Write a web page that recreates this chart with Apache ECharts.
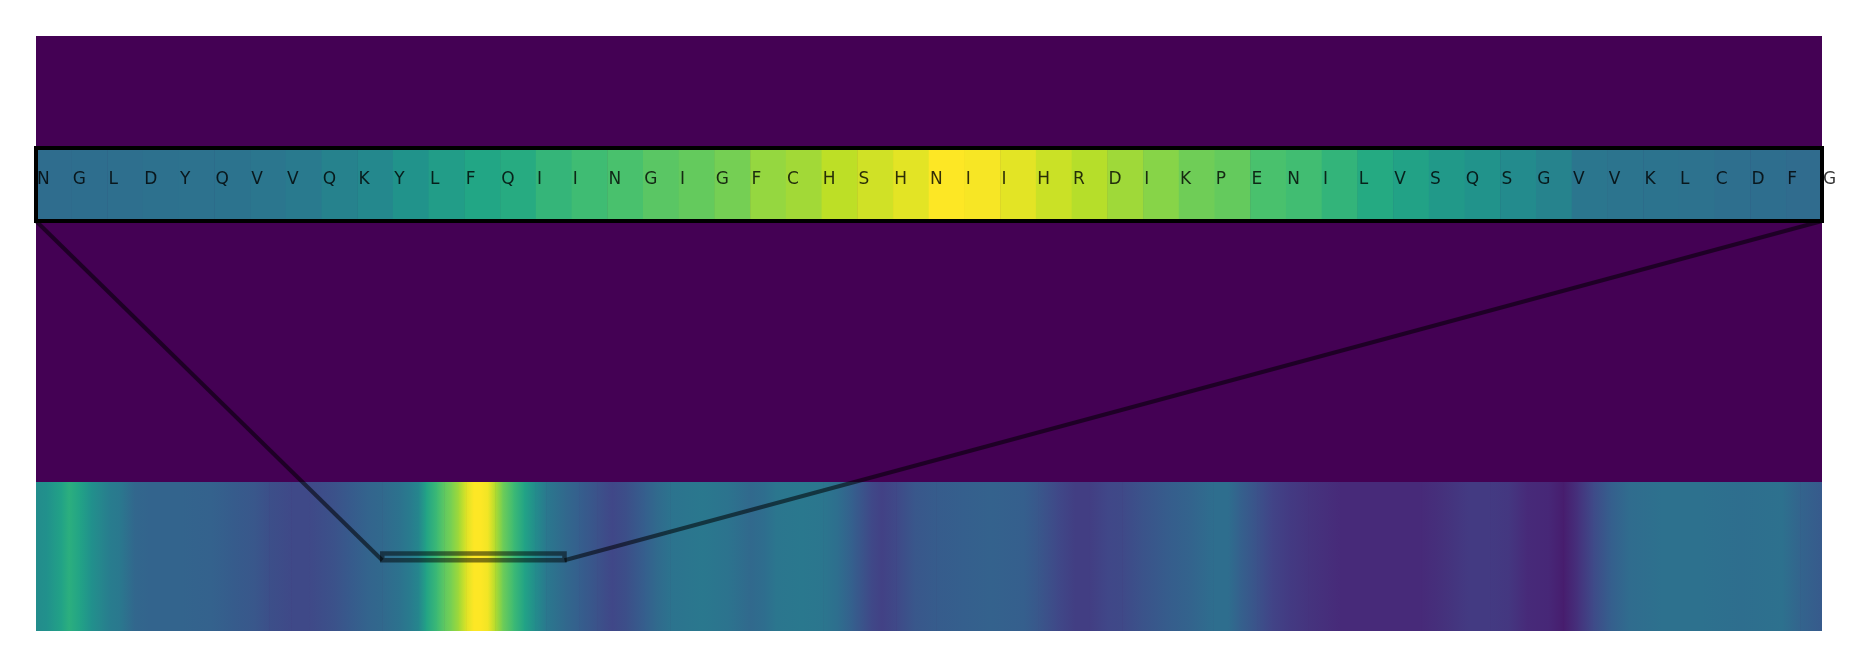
<!DOCTYPE html>
<html>
<head>
<meta charset="utf-8">
<script src="https://cdn.jsdelivr.net/npm/echarts@6/dist/echarts.min.js"></script>
<style>
html,body{margin:0;padding:0;background:#fff;}
#chart{width:1873px;height:667px;}
</style>
</head>
<body>
<div id="chart"></div>
<script>
// ---- data ----
const residues = ['N','G','L','D','Y','Q','V','V','Q','K','Y','L','F','Q','I','I','N','G','I','G',
  'F','C','H','S','H','N','I','I','H','R','D','I','K','P','E','N','I','L','V','S',
  'Q','S','G','V','V','K','L','C','D','F','G'];
const topValues = [0.355,0.36,0.365,0.37,0.375,0.38,0.39,0.41,0.44,0.465,
  0.51,0.55,0.59,0.615,0.655,0.685,0.71,0.74,0.76,0.79,
  0.84,0.86,0.90,0.93,0.96,1.0,0.99,0.96,0.92,0.89,
  0.855,0.82,0.78,0.76,0.71,0.69,0.65,0.61,0.575,0.535,
  0.51,0.475,0.445,0.39,0.385,0.38,0.375,0.365,0.36,0.35];
const seqLength = 490;
const windowStart = 95;
const windowEnd = 145;
const bottomPositions = [0,3,7,9,12,15,18,20,23,27,31,40,48,54,60,64,70,75,82,86,
  91,95,100,103,105,107,110,112,114,116,118,120,122,124,126,128,131,134,137,140,
  145,149,154,158,162,167,170,174,183,190,196,200,203,210,216,220,224,229,232,236,
  241,247,254,262,271,275,280,285,289,294,298,303,310,317,323,327,330,335,339,344,
  349,358,369,380,386,393,399,404,409,415,419,423,427,432,437,446,457,468,479,484,490];
const bottomValues = [0.48,0.50,0.58,0.63,0.58,0.50,0.45,0.42,0.40,0.33,
  0.32,0.32,0.31,0.29,0.27,0.24,0.22,0.22,0.25,0.28,
  0.32,0.34,0.38,0.42,0.46,0.58,0.68,0.75,0.80,0.86,
  0.95,1.0,1.0,0.98,0.88,0.78,0.68,0.58,0.48,0.40,
  0.34,0.30,0.25,0.21,0.24,0.30,0.34,0.38,0.40,0.38,
  0.34,0.36,0.39,0.40,0.39,0.36,0.30,0.22,0.19,0.22,
  0.27,0.29,0.30,0.31,0.30,0.27,0.22,0.18,0.18,0.21,
  0.22,0.25,0.29,0.32,0.36,0.36,0.31,0.25,0.20,0.17,
  0.15,0.12,0.12,0.12,0.14,0.17,0.17,0.16,0.12,0.11,
  0.08,0.14,0.22,0.30,0.35,0.37,0.37,0.36,0.37,0.32,0.28];

const VIRIDIS = ['#440154','#482475','#414487','#355f8d','#2a788e','#21918c',
  '#22a884','#44bf70','#7ad151','#bddf26','#fde725'];

// ---- build ----
const chart = echarts.init(document.getElementById('chart'), null, {renderer:'canvas'});
const cellCats = topValues.map((_, i) => String(i));
const heatData = topValues.map((v, i) => [i, 0, v]);
const letterData = residues.map((r, i) => ({value:[i, 0.5], name:r}));
const segData = [];
for (let i = 0; i < bottomPositions.length - 1; i++) {
  segData.push([bottomPositions[i], bottomPositions[i+1], bottomValues[i], bottomValues[i+1]]);
}
const lerp = v => echarts.color.lerp(Math.max(0, Math.min(1, v)), VIRIDIS);
const EDGE = 'rgba(0,0,0,0.55)';

const L = 36, W = 1786;
const option = {
  animation:false,
  backgroundColor:'#ffffff',
  grid:[
    {left:L, top:36, width:W, height:595, show:true, backgroundColor:'#440154', borderWidth:0, z:0},
    {left:L, top:148, width:W, height:73, show:false},
    {left:L, top:482, width:W, height:149, show:false}
  ],
  xAxis:[
    {gridIndex:0, type:'value', min:0, max:1, show:false},
    {gridIndex:1, type:'category', data:cellCats, show:false},
    {gridIndex:1, type:'value', min:0, max:topValues.length, show:false},
    {gridIndex:2, type:'value', min:0, max:seqLength, show:false}
  ],
  yAxis:[
    {gridIndex:0, type:'value', min:0, max:1, show:false},
    {gridIndex:1, type:'category', data:[''], show:false},
    {gridIndex:1, type:'value', min:0, max:1, show:false},
    {gridIndex:2, type:'value', min:-0.5, max:0.5, show:false}
  ],
  visualMap:{show:false, min:0, max:1, seriesIndex:0, inRange:{color:VIRIDIS}},
  series:[
    {type:'heatmap', xAxisIndex:1, yAxisIndex:1, data:heatData, itemStyle:{borderWidth:0}},
    {type:'custom', xAxisIndex:2, yAxisIndex:2, z:12, clip:false, data:[[0, topValues.length]],
      renderItem:(params, api) => {
        const a = api.coord([api.value(0), 1]);
        const b = api.coord([api.value(1), 0]);
        return {type:'rect', shape:{x:a[0], y:a[1], width:b[0]-a[0], height:b[1]-a[1]},
          style:{fill:'none', stroke:'#000', lineWidth:4}};
      }},
    {type:'scatter', xAxisIndex:2, yAxisIndex:2, data:letterData, symbolSize:0, clip:false, z:20,
      label:{show:true, position:'inside', align:'left', verticalAlign:'middle', offset:[1,-5],
        formatter:p => p.name, color:'#000', fontSize:17, fontFamily:'DejaVu Sans'}},
    {type:'custom', xAxisIndex:3, yAxisIndex:3, data:segData, clip:true,
      renderItem:(params, api) => {
        const p0 = api.coord([api.value(0), 0.5]);
        const p1 = api.coord([api.value(1), -0.5]);
        return {type:'rect', shape:{x:p0[0], y:p0[1], width:p1[0]-p0[0]+0.6, height:p1[1]-p0[1]},
          style:{fill:new echarts.graphic.LinearGradient(0,0,1,0,[
            {offset:0, color:lerp(api.value(2))},{offset:1, color:lerp(api.value(3))}])}};
      }},
    {type:'custom', xAxisIndex:3, yAxisIndex:3, z:15, data:[[windowStart, windowEnd, -0.025, 0.02]],
      renderItem:(params, api) => {
        const a = api.coord([api.value(0), api.value(3)]);
        const b = api.coord([api.value(1), api.value(2)]);
        return {type:'rect', shape:{x:a[0], y:a[1], width:b[0]-a[0], height:b[1]-a[1]},
          style:{fill:'none', stroke:'rgba(0,0,0,0.5)', lineWidth:4.5}};
      }}
  ]
};
chart.setOption(option);

// connector lines from the zoomed strip corners to the window box corners
const tl = chart.convertToPixel({xAxisIndex:2, yAxisIndex:2}, [0, 0]);
const tr = chart.convertToPixel({xAxisIndex:2, yAxisIndex:2}, [topValues.length, 0]);
const bl = chart.convertToPixel({xAxisIndex:3, yAxisIndex:3}, [windowStart, -0.025]);
const br = chart.convertToPixel({xAxisIndex:3, yAxisIndex:3}, [windowEnd, -0.025]);
chart.setOption({graphic:[
  {type:'line', shape:{x1:tl[0], y1:tl[1], x2:bl[0], y2:bl[1]}, style:{stroke:EDGE, lineWidth:4}, z:30},
  {type:'line', shape:{x1:tr[0], y1:tr[1], x2:br[0], y2:br[1]}, style:{stroke:EDGE, lineWidth:4}, z:30}
]});
</script>
</body>
</html>
